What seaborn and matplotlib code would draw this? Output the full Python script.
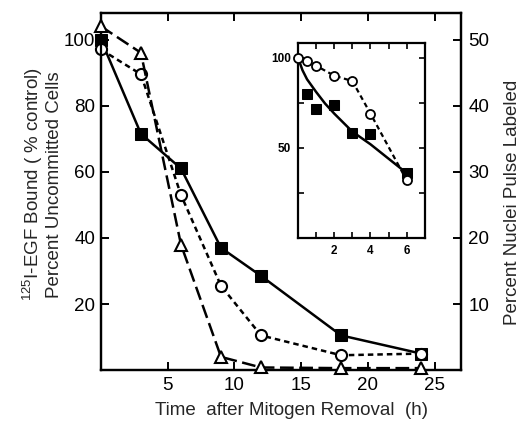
import matplotlib
matplotlib.use("Agg")
import matplotlib.pyplot as plt
import seaborn as sns
import pandas as pd

# ---- main panel data ----
time_h = [0, 3, 6, 9, 12, 18, 24]
egf_bound = [100, 71.5, 61, 37, 28.5, 10.5, 5]          # filled squares, solid
uncommitted = [97, 89.5, 53, 25.5, 10.5, 4.5, 5]          # open circles, short dash
nuclei_labeled = [52, 48, 19, 2, 0.4, 0.3, 0.3]           # open triangles, long dash (right axis)

# ---- inset data ----
inset_sq_x = [0.5, 1, 2, 3, 4, 6]
inset_sq_y = [80, 71.5, 74, 58.5, 57.5, 36]
inset_fit_x = [0, 0.25, 0.5, 1, 1.5, 2, 3, 4, 5, 6]
inset_fit_y = [100, 93, 88, 81, 74.5, 69, 59, 52, 44, 36]
inset_circ_x = [0, 0.5, 1, 2, 3, 4, 6]
inset_circ_y = [100, 98, 95.5, 90, 87, 69, 32]

main_xticks = [5, 10, 15, 20, 25]
left_yticks = [20, 40, 60, 80, 100]
right_yticks = [10, 20, 30, 40, 50]
inset_xticks = [2, 4, 6]
inset_yticks = [50, 100]

sns.set_theme(style="ticks")
plt.rcParams["font.family"] = ["Liberation Sans", "DejaVu Sans"]
plt.rcParams["mathtext.fontset"] = "custom"
plt.rcParams["mathtext.rm"] = "Liberation Sans"
plt.rcParams["mathtext.it"] = "Liberation Sans:italic"
plt.rcParams["mathtext.bf"] = "Liberation Sans:bold"
plt.rcParams["axes.linewidth"] = 1.6

fig = plt.figure(figsize=(5.2, 4.23), dpi=100)
ax = fig.add_axes([0.194, 0.125, 0.693, 0.844])
ax2 = ax.twinx()

lw = 1.8
sns.lineplot(x=time_h, y=egf_bound, ax=ax, color="black", lw=lw,
             marker="s", markersize=9, markerfacecolor="black",
             markeredgecolor="black", zorder=3, clip_on=False)
sns.lineplot(x=time_h, y=uncommitted, ax=ax, color="black", lw=lw,
             linestyle=(0, (2.2, 1.6)), marker="o", markersize=8,
             markerfacecolor="white", markeredgecolor="black",
             markeredgewidth=1.5, zorder=4, clip_on=False)
sns.lineplot(x=time_h, y=nuclei_labeled, ax=ax2, color="black", lw=lw,
             linestyle=(0, (5.5, 2.2)), marker="^", markersize=8,
             markerfacecolor="white", markeredgecolor="black",
             markeredgewidth=1.5, zorder=4, clip_on=False)

ax.set_xlim(0, 27)
ax.set_ylim(0, 108)
ax2.set_ylim(0, 54)
ax.set_xticks(main_xticks)
ax.set_xticklabels([str(t) for t in main_xticks])
ax.set_yticks(left_yticks)
ax.set_yticklabels([str(t) for t in left_yticks])
ax2.set_yticks(right_yticks)
ax2.set_yticklabels([str(t) for t in right_yticks])

ax.tick_params(axis="x", direction="in", length=6, width=1.4,
               labelsize=13.5, top=True, pad=5, colors="black")
ax.tick_params(axis="y", direction="in", length=6, width=1.4,
               labelsize=13.5, pad=4, colors="black")
ax2.tick_params(axis="y", direction="in", length=6, width=1.4,
                labelsize=13.5, pad=5, colors="black")
for a in (ax, ax2):
    for s in a.spines.values():
        s.set_visible(True)
        s.set_linewidth(1.6)
        s.set_color("black")

ax.set_xlabel("Time  after Mitogen Removal  (h)", fontsize=13.5)
ax.xaxis.set_label_coords(0.53, -0.09)
ax.set_ylabel("$^{125}$I-EGF Bound ( % control)\nPercent Uncommitted Cells",
              fontsize=13.5, linespacing=1.05)
ax.yaxis.set_label_coords(-0.106, 0.52)
ax2.set_ylabel("Percent Nuclei Pulse Labeled", fontsize=13.5)
ax2.yaxis.set_label_coords(1.118, 0.47)

# ---- inset ----
ins = fig.add_axes([0.573, 0.437, 0.244, 0.461])
sns.lineplot(x=inset_fit_x, y=inset_fit_y, ax=ins, color="black", lw=1.8)
sns.lineplot(x=inset_sq_x, y=inset_sq_y, ax=ins, color="black", lw=0,
             marker="s", markersize=7, markerfacecolor="black",
             markeredgecolor="black", zorder=3, clip_on=False)
sns.lineplot(x=inset_circ_x, y=inset_circ_y, ax=ins, color="black", lw=1.6,
             linestyle=(0, (2.2, 1.6)), marker="o", markersize=6.5,
             markerfacecolor="white", markeredgecolor="black",
             markeredgewidth=1.3, zorder=4, clip_on=False)
ins.set_xlim(0, 7)
ins.set_ylim(0, 108)
ins.set_xticks(inset_xticks)
ins.set_xticklabels([str(t) for t in inset_xticks])
ins.set_xticks([1, 3, 5], minor=True)
ins.set_yticks(inset_yticks)
ins.set_yticklabels([str(t) for t in inset_yticks])
ins.set_yticks([25, 75], minor=True)
ins.tick_params(axis="both", which="both", direction="in", length=4,
                width=1.2, labelsize=8.5, top=True, right=True, pad=5,
                colors="black")
for lab in ins.get_xticklabels() + ins.get_yticklabels():
    lab.set_fontweight("bold")
for s in ins.spines.values():
    s.set_visible(True)
    s.set_linewidth(1.6)
    s.set_color("black")

fig.savefig("out.png", dpi=100)
